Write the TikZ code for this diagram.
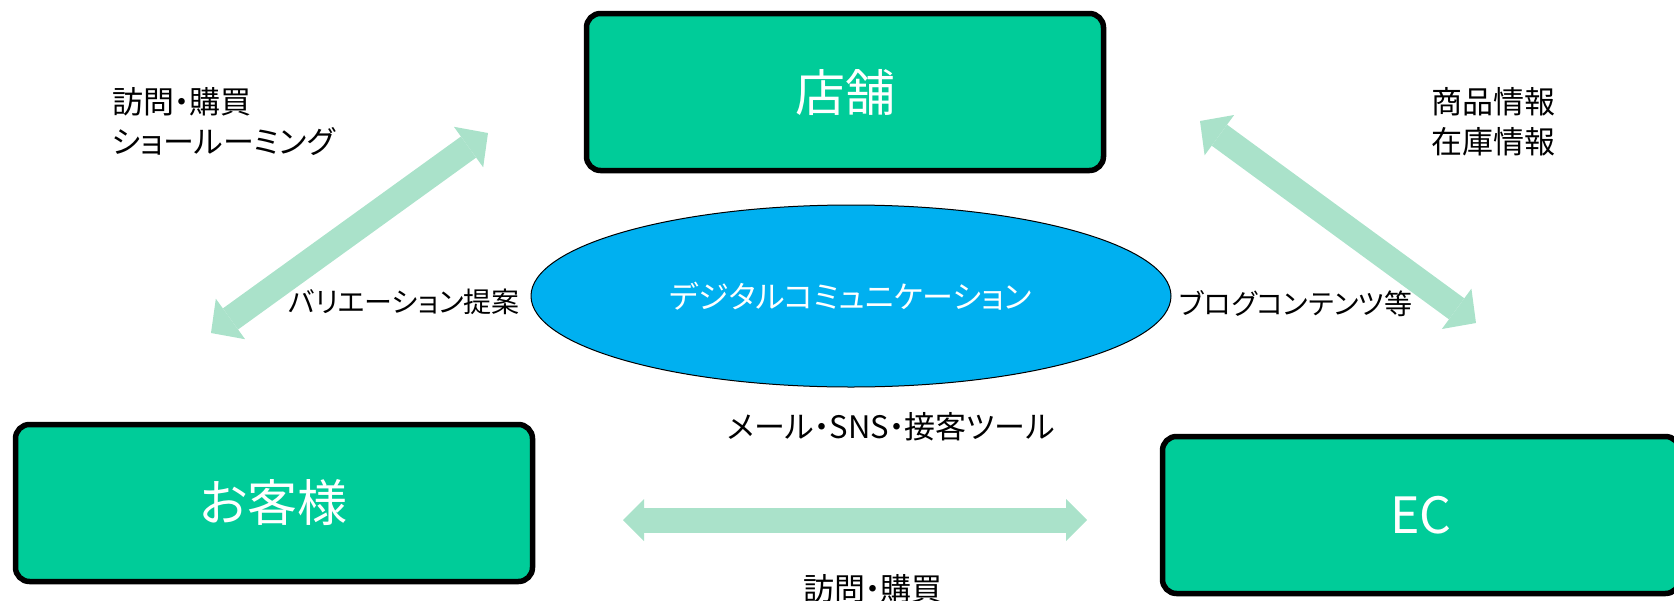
\documentclass[tikz,border=0pt]{standalone}
\usepackage{fontspec}
\setmainfont{Noto Sans CJK JP}[RawFeature=+palt]
\usetikzlibrary{arrows.meta,positioning,shapes.geometric}
\definecolor{boxgreen}{HTML}{00CC99}
\definecolor{arrowgreen}{HTML}{AAE2CA}
\definecolor{ovalblue}{HTML}{00B0F0}
\tikzset{
  box/.style={
    draw,
    line width=5.5pt,
    rounded corners=14pt,
    fill=boxgreen,
    text=white,
    minimum width=517pt,
    minimum height=157pt,
    font=\fontsize{50}{60}\selectfont
  },
  oval/.style={
    ellipse,
    draw,
    line width=1pt,
    fill=ovalblue,
    text=white,
    minimum width=640pt,
    minimum height=182pt,
    inner sep=0pt,
    font=\fontsize{31}{40}\selectfont
  },
  note/.style={
    align=left,
    inner sep=0pt,
    font=\fontsize{31}{40}\selectfont
  },
  sidenote/.style={
    note,
    font=\fontsize{28}{36}\selectfont
  },
  biarrow/.style={arrowgreen, line width=26pt, {Triangle[length=24pt, width=50pt, line width=0pt]}-{Triangle[length=24pt, width=50pt, line width=0pt]}},
  flatarrow/.style={arrowgreen, line width=25pt, {Triangle[length=21pt, width=42pt, line width=0pt]}-{Triangle[length=21pt, width=42pt, line width=0pt]}}
}

\begin{document}
\begin{tikzpicture}[x=1pt, y=-1pt]
\useasboundingbox (0,0) rectangle (1674,600);

\node[box] (shop) at (845,92) {店舗};
\node[box] (customer) at (274,503) {お客様};
\node[box] (ec) at (1421,515) {EC};
\node[oval] (digital) at (851,296) {デジタルコミュニケーション};

% Labels
\node[note, anchor=west] (visit) at (112,122) {訪問・購買\\ショールーミング};
\node[note, anchor=west] (info) at (1431,122) {商品情報\\在庫情報};
\node[sidenote] (variation) at (404,302) {バリエーション提案};
\node[sidenote] (blog) at (1296,304) {ブログコンテンツ等};
\node[note] (tools) at (891,427) {メール・SNS・接客ツール};
\node[note] (buy) at (873,589) {訪問・購買};

% Arrow ends
\coordinate (cs) at (211,333);
\coordinate (sc) at (488,133);
\coordinate (se) at (1200,121);
\coordinate (es) at (1476,323);
\coordinate (ce) at (623,520);
\coordinate (ec2) at (1087,520);

% Arrows
\draw[biarrow] (cs) -- (sc);
\draw[biarrow] (se) -- (es);
\draw[flatarrow] (ce) -- (ec2);

\end{tikzpicture}
\end{document}
